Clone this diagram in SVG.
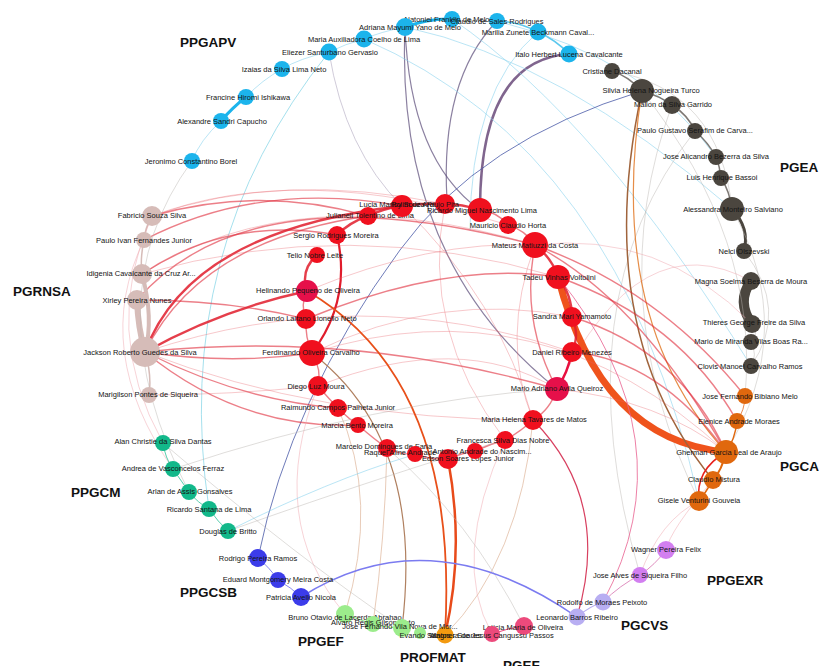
<svg xmlns="http://www.w3.org/2000/svg" width="819" height="666" viewBox="0 0 819 666">
<style>
.e{fill:none;stroke-linecap:round}
.rl{stroke:#e8606a;stroke-opacity:.35;stroke-width:1}
.rm{stroke:#e02a38;stroke-opacity:.6;stroke-width:1.4}
.rt{stroke:#e01c2c;stroke-opacity:.85;stroke-width:2.4}
.gl{stroke:#b8b4b0;stroke-opacity:.45;stroke-width:1}
.pl{stroke:#f0a8b0;stroke-opacity:.5;stroke-width:1}
.bl{stroke:#8cd4ee;stroke-opacity:.6;stroke-width:1}
.pu{stroke:#5a4a78;stroke-opacity:.7;stroke-width:1.2}
.nv{stroke:#4a5aa8;stroke-opacity:.8;stroke-width:1}
.tn{stroke:#d8a888;stroke-opacity:.6;stroke-width:1}
.gr{stroke:#5e5852;stroke-opacity:.8;stroke-width:1.5}
text{font-family:"Liberation Sans",Arial,sans-serif}
.n text{font-size:7.5px;fill:#141414;text-anchor:middle}
.grp{font-size:13.5px;font-weight:bold;fill:#111}
.apv{fill:#1cb4ec}.pgea{fill:#4b463f}.pgca{fill:#e0680e}.exr{fill:#d27ff0}.cvs{fill:#b8aef2}
.pgef{fill:#ec4a7c}.prof{fill:#f39a10}.ppgef{fill:#9cec8c}.csb{fill:#3c3cea}.cm{fill:#12b88a}
.rn{fill:#d6bcb8}.red{fill:#f0101e}.rp{fill:#e6104a}
</style>
<rect width="819" height="666" fill="#ffffff"/>
<g id="edges">
<path class="e" d="M452,19 Q430,18 405,27" stroke="#1cb4ec" stroke-width="3"/>
<path class="e bl" d="M405,27 Q380,32 364,39 M364,39 Q345,44 329,52 M329,52 Q300,58 282,69 M282,69 Q262,80 246,97 M221,121 Q200,140 192,161"/>
<path class="e" d="M246,97 Q232,108 221,121" stroke="#1cb4ec" stroke-width="3"/>
<path class="e" d="M497,21 Q520,22 538,32 M538,32 Q556,40 569,54" stroke="#5cc8ee" stroke-width="1.5"/>
<path class="e" d="M329,52 Q170,250 209,509" stroke="#8fd8e8" stroke-width="1" stroke-opacity=".8"/>
<path class="e" d="M329,52 Q345,150 402,206" stroke="#b0a8c0" stroke-width="1" stroke-opacity=".6"/>
<path class="e pu" d="M405,27 Q395,260 557,389"/>
<path class="e pu" d="M405,27 Q410,160 480,210"/>
<path class="e pu" d="M497,21 Q440,80 447,200"/>
<path class="e" d="M569,54 Q480,60 480,210" stroke="#6a4a7a" stroke-width="2.5" stroke-opacity=".85"/>
<path class="e bl" d="M538,32 Q470,90 470,230"/>
<path class="e bl" d="M405,27 Q560,60 732,209"/>
<path class="e bl" d="M364,39 Q620,150 699,501"/>
<path class="e bl" d="M452,19 Q600,120 751,366"/>
<path class="e bl" d="M497,21 Q650,60 716,157"/>
<path class="e nv" d="M642,91 Q480,140 400,250 Q290,400 258,558"/>
<path class="e gr" d="M612,71 Q628,76 642,91 Q660,96 672,105 Q688,115 695,131 Q708,142 716,157 Q720,167 721,178 Q730,192 732,209"/>
<path class="e gl" d="M612,71 Q720,90 732,209"/>
<path class="e" d="M732,209 Q750,228 744,251" stroke="#4b463f" stroke-width="3"/>
<path class="e" d="M751,281 Q736,302 752,324" stroke="#4b463f" stroke-width="10"/>
<path class="e gl" d="M752,324 Q760,334 751,342 M751,342 Q758,355 751,366"/>
<path class="e gl" d="M744,251 Q790,310 751,366"/>
<path class="e gl" d="M732,209 Q800,330 726,452"/>
<path class="e gl" d="M642,91 Q760,240 745,396"/>
<path class="e gl" d="M672,105 Q600,300 699,501"/>
<path class="e gl" d="M695,131 Q560,300 640,575"/>
<path class="e pl" d="M535,245 Q660,230 752,324"/>
<path class="e pl" d="M557,389 Q640,220 751,281"/>
<path class="e" d="M558,277 Q600,440 726,452" stroke="#ee4a10" stroke-width="7" stroke-opacity=".95"/>
<path class="e" d="M642,91 Q590,330 713,480" stroke="#a0643c" stroke-width="1.5"/>
<path class="e" d="M642,91 Q605,320 726,452" stroke="#e0701a" stroke-width="1.2" stroke-opacity=".8"/>
<path class="e rm" d="M535,245 Q640,300 726,452"/>
<path class="e rm" d="M535,245 Q660,290 745,396"/>
<path class="e rm" d="M558,277 Q680,320 737,421"/>
<path class="e rm" d="M572,352 Q660,360 726,452"/>
<path class="e rm" d="M572,317 Q680,350 726,452"/>
<path class="e rl" d="M557,389 Q660,400 726,452"/>
<path class="e rl" d="M312,353 Q540,280 726,452"/>
<path class="e" d="M745,396 Q745,410 737,421" stroke="#e88a50" stroke-width="1"/>
<path class="e" d="M737,421 Q735,440 726,452" stroke="#e0680e" stroke-width="1.5"/>
<path class="e" d="M726,452 Q722,470 713,480" stroke="#e0680e" stroke-width="2"/>
<path class="e" d="M713,480 Q706,492 699,501" stroke="#e0680e" stroke-width="1.5"/>
<path class="e" d="M726,452 Q695,470 699,501" stroke="#e8201c" stroke-width="1.5"/>
<path class="e pl" d="M699,501 Q660,520 640,575"/>
<path class="e pl" d="M713,480 Q670,530 666,550"/>
<path class="e rt" d="M535,245 Q552,258 558,277"/>
<path class="e rt" d="M558,277 Q572,295 572,317 M572,317 Q580,335 572,352"/>
<path class="e" d="M572,352 Q568,372 557,389" stroke="#e81040" stroke-width="2.5"/>
<path class="e rm" d="M557,389 Q550,410 533,420 M533,420 Q520,432 505,440"/>
<path class="e rm" d="M535,245 Q520,320 557,389"/>
<path class="e rl" d="M535,245 Q500,340 533,420"/>
<path class="e rm" d="M508,225 Q525,230 535,245 M480,210 Q498,212 508,225"/>
<path class="e rt" d="M445,204 Q462,204 480,210 M402,206 Q424,203 445,204 M368,216 Q385,208 402,206"/>
<path class="e rt" d="M368,216 Q350,222 337,235"/>
<path class="e" d="M337,235 Q352,300 312,353" stroke="#e01c2c" stroke-width="2.2"/>
<path class="e rt" d="M317,255 Q300,270 307,291"/>
<path class="e rm" d="M307,291 Q300,305 306,319 M306,319 Q305,338 312,353 M312,353 Q322,370 318,386 M318,386 Q330,400 338,408 M338,408 Q350,420 358,425"/>
<path class="e rm" d="M358,425 Q375,440 387,448 M387,448 Q400,455 415,454 M415,454 Q430,460 448,459 M448,459 Q462,453 475,451 M475,451 Q490,444 505,440"/>
<path class="e rt" d="M145,352 Q190,230 402,206"/>
<path class="e rm" d="M145,352 Q200,240 368,216"/>
<path class="e rm" d="M137,300 Q250,170 535,245"/>
<path class="e rl" d="M152,216 Q300,160 508,225"/>
<path class="e rl" d="M152,216 Q280,170 445,204"/>
<path class="e rm" d="M144,240 Q260,180 402,206"/>
<path class="e rl" d="M142,274 Q300,175 535,245"/>
<path class="e rm" d="M142,274 Q230,215 337,235"/>
<path class="e rl" d="M142,274 Q350,215 558,277"/>
<path class="e rm" d="M152,216 Q260,185 368,216"/>
<path class="e rt" d="M145,352 Q220,310 307,291"/>
<path class="e rm" d="M137,300 Q230,300 306,319"/>
<path class="e rm" d="M145,352 Q230,365 312,353"/>
<path class="e rm" d="M145,352 Q350,330 557,389"/>
<path class="e rl" d="M145,352 Q320,420 533,420"/>
<path class="e rm" d="M145,352 Q240,400 338,408"/>
<path class="e rm" d="M145,352 Q240,430 358,425"/>
<path class="e rl" d="M149,395 Q230,395 318,386"/>
<path class="e rl" d="M145,352 Q360,280 572,352"/>
<path class="e rl" d="M307,291 Q430,240 535,245"/>
<path class="e rm" d="M306,319 Q450,260 558,277"/>
<path class="e rl" d="M312,353 Q440,290 572,317"/>
<path class="e rl" d="M318,386 Q460,330 557,389"/>
<path class="e rl" d="M402,206 Q500,300 533,420"/>
<path class="e rl" d="M445,204 Q420,330 505,440"/>
<path class="e" d="M137,300 Q138,328 145,352" stroke="#d6bcb8" stroke-width="6"/>
<path class="e" d="M142,274 Q154,318 145,352" stroke="#d6bcb8" stroke-width="4"/>
<path class="e" d="M152,216 Q145,228 144,240 M144,240 Q140,258 142,274 M145,352 Q152,375 149,395" stroke="#d6bcb8" stroke-width="1.5"/>
<path class="e pl" d="M152,216 Q100,330 163,443"/>
<path class="e pl" d="M144,240 Q90,350 173,469"/>
<path class="e gl" d="M192,161 Q90,300 189,492"/>
<path class="e" d="M307,291 Q460,380 445,635" stroke="#e8501a" stroke-width="1.8"/>
<path class="e" d="M448,459 Q465,550 445,635" stroke="#e84a1a" stroke-width="2.5"/>
<path class="e" d="M312,353 Q425,440 402,628" stroke="#b08060" stroke-width="1.2"/>
<path class="e tn" d="M338,408 Q380,500 345,614"/>
<path class="e pl" d="M318,386 Q265,520 345,614"/>
<path class="e tn" d="M387,448 Q385,540 373,624"/>
<path class="e" d="M533,420 Q612,500 577,617" stroke="#d84060" stroke-width="1.2"/>
<path class="e" d="M603,602 Q690,440 558,277" stroke="#e86090" stroke-width="1" stroke-opacity=".8"/>
<path class="e tn" d="M533,420 Q520,560 445,635"/>
<path class="e gl" d="M387,448 Q470,520 524,626"/>
<path class="e pl" d="M505,440 Q450,560 492,634"/>
<path class="e" d="M301,597 Q430,515 577,617" stroke="#7b7bf0" stroke-width="1.5"/>
<path class="e gl" d="M173,469 Q380,400 557,389"/>
<path class="e gl" d="M228,531 Q400,470 505,440"/>
<path class="e bl" d="M228,531 Q330,480 410,456"/>
<path class="e gl" d="M163,443 Q300,560 402,628"/>
<path class="e" d="M163,443 Q165,458 173,469 M173,469 Q182,482 189,492 M189,492 Q198,503 209,509 M209,509 Q218,522 228,531" stroke="#12b88a" stroke-width="1" stroke-opacity=".7"/>
<path class="e" d="M258,558 Q270,568 278,580 M278,580 Q292,588 301,597" stroke="#3c3cea" stroke-width="1" stroke-opacity=".6"/>
<path class="e" d="M345,614 Q360,620 373,624 M373,624 Q388,628 402,628" stroke="#9cec8c" stroke-width="1.2"/>
<path class="e" d="M577,617 Q590,606 603,602" stroke="#b8aef2" stroke-width="1.2"/>
<path class="e" d="M603,602 Q620,585 640,575 M640,575 Q655,565 666,550" stroke="#e090c0" stroke-width="1"/>
<path class="e" d="M492,634 Q508,628 524,626" stroke="#ec4a7c" stroke-width="1"/>
</g>
<g id="nodes" class="n">
<g id="n-natoniel"><circle class="apv" cx="452" cy="19" r="8"/><text x="447" y="21.6">Natoniel Franklin de Melo</text></g>
<g id="n-claudio-sales"><circle class="apv" cx="497" cy="21" r="8"/><text x="497" y="23.6">Claudio de Sales Rodrigues</text></g>
<g id="n-adriana"><circle class="apv" cx="405" cy="27" r="9"/><text x="410" y="29.6">Adriana Mayumi Yano de Melo</text></g>
<g id="n-maria-aux"><circle class="apv" cx="364" cy="39" r="8.5"/><text x="364" y="41.6">Maria Auxiliadora Coelho de Lima</text></g>
<g id="n-eliezer"><circle class="apv" cx="329" cy="52" r="8.5"/><text x="330" y="54.6">Eliezer Santurbano Gervasio</text></g>
<g id="n-izaias"><circle class="apv" cx="282" cy="69" r="8"/><text x="284" y="71.6">Izaias da Silva Lima Neto</text></g>
<g id="n-francine"><circle class="apv" cx="246" cy="97" r="8"/><text x="248" y="99.6">Francine Hiromi Ishikawa</text></g>
<g id="n-alexandre"><circle class="apv" cx="221" cy="121" r="8"/><text x="222" y="123.6">Alexandre Sandri Capucho</text></g>
<g id="n-jeronimo"><circle class="apv" cx="192" cy="161" r="8"/><text x="191" y="163.6">Jeronimo Constantino Borel</text></g>
<g id="n-marilia"><circle class="apv" cx="538" cy="32" r="8.5"/><text x="538" y="34.6">Marilia Zunete Beckmann Caval...</text></g>
<g id="n-italo"><circle class="apv" cx="569" cy="54" r="8.5"/><text x="569" y="56.6">Italo Herbert Lucena Cavalcante</text></g>
<g id="n-cristiane"><circle class="pgea" cx="612" cy="71" r="8"/><text x="612" y="73.6">Cristiane Dacanal</text></g>
<g id="n-silvia"><circle class="pgea" cx="642" cy="91" r="12"/><text x="651" y="92.6">Silvia Helena Nogueira Turco</text></g>
<g id="n-mallon"><circle class="pgea" cx="672" cy="105" r="9"/><text x="673" y="106.6">Mallon da Silva Garrido</text></g>
<g id="n-paulo-g"><circle class="pgea" cx="695" cy="131" r="8"/><text x="695" y="132.6">Paulo Gustavo Serafim de Carva...</text></g>
<g id="n-jose-a"><circle class="pgea" cx="716" cy="157" r="8"/><text x="716" y="158.6">Jose Alicandro Bezerra da Silva</text></g>
<g id="n-luis"><circle class="pgea" cx="721" cy="178" r="8"/><text x="722" y="179.6">Luis Henrique Bassoi</text></g>
<g id="n-alessandra"><circle class="pgea" cx="732" cy="209" r="12"/><text x="733" y="211.6">Alessandra Monteiro Salviano</text></g>
<g id="n-nelci"><circle class="pgea" cx="744" cy="251" r="8"/><text x="744" y="253.6">Nelci Olszevski</text></g>
<g id="n-magna"><circle class="pgea" cx="751" cy="281" r="9"/><text x="751" y="283.6">Magna Soelma Beserra de Moura</text></g>
<g id="n-thieres"><circle class="pgea" cx="752" cy="324" r="9"/><text x="754" y="324.6">Thieres George Freire da Silva</text></g>
<g id="n-mario-m"><circle class="pgea" cx="751" cy="342" r="8"/><text x="751" y="343.6">Mario de Miranda Vilas Boas Ra...</text></g>
<g id="n-clovis"><circle class="pgea" cx="751" cy="366" r="8"/><text x="750" y="368.6">Clovis Manoel Carvalho Ramos</text></g>
<g id="n-jose-f"><circle class="pgca" cx="745" cy="396" r="8"/><text x="750" y="398.6">Jose Fernando Bibiano Melo</text></g>
<g id="n-elenice"><circle class="pgca" cx="737" cy="421" r="8"/><text x="739" y="423.6">Elenice Andrade Moraes</text></g>
<g id="n-gherman"><circle class="pgca" cx="726" cy="452" r="12"/><text x="729" y="454.6">Gherman Garcia Leal de Araujo</text></g>
<g id="n-claudio-m"><circle class="pgca" cx="713" cy="480" r="9"/><text x="714" y="481.6">Claudio Mistura</text></g>
<g id="n-gisele"><circle class="pgca" cx="699" cy="501" r="10"/><text x="699" y="502.6">Gisele Venturini Gouveia</text></g>
<g id="n-wagner-f"><circle class="exr" cx="666" cy="550" r="9"/><text x="666" y="551.6">Wagner Pereira Felix</text></g>
<g id="n-jose-alves"><circle class="exr" cx="640" cy="575" r="8"/><text x="640" y="577.6">Jose Alves de Siqueira Filho</text></g>
<g id="n-rodolfo"><circle class="cvs" cx="603" cy="602" r="8.5"/><text x="602" y="604.6">Rodolfo de Moraes Peixoto</text></g>
<g id="n-leonardo"><circle class="cvs" cx="577" cy="617" r="8.5"/><text x="577" y="619.6">Leonardo Barros Ribeiro</text></g>
<g id="n-leticia"><circle class="pgef" cx="524" cy="626" r="9"/><text x="523" y="629.6">Leticia Maria de Oliveira</text></g>
<g id="n-cangussu"><circle class="pgef" cx="492" cy="634" r="8"/><text x="492" y="637.6">Vanessa de Jesus Cangussu Passos</text></g>
<g id="n-wagner-p"><circle class="prof" cx="445" cy="635" r="8.5"/><text x="455" y="637.6">Wagner Soares</text></g>
<g id="n-bruno"><circle class="ppgef" cx="345" cy="614" r="9"/><text x="345" y="619.6">Bruno Otavio de Lacerda Abrahao</text></g>
<g id="n-alvaro"><circle class="ppgef" cx="373" cy="624" r="8"/><text x="373" y="624.6">Alvaro Regis Gilson Neto</text></g>
<g id="n-jose-vila"><circle class="ppgef" cx="402" cy="628" r="9"/><text x="400" y="628.6">Jose Fernando Vila Nova de Mor...</text></g>
<g id="n-evando"><circle class="ppgef" cx="420" cy="633" r="6"/><text x="425" y="637.6">Evando Santos</text></g>
<g id="n-rodrigo"><circle class="csb" cx="258" cy="558" r="9"/><text x="258" y="560.6">Rodrigo Pereira Ramos</text></g>
<g id="n-eduard"><circle class="csb" cx="278" cy="580" r="8"/><text x="278" y="581.6">Eduard Montgomery Meira Costa</text></g>
<g id="n-patricia"><circle class="csb" cx="301" cy="597" r="9"/><text x="301" y="599.6">Patricia Avello Nicola</text></g>
<g id="n-alan"><circle class="cm" cx="163" cy="443" r="8"/><text x="163" y="443.6">Alan Christie da Silva Dantas</text></g>
<g id="n-andrea"><circle class="cm" cx="173" cy="469" r="8"/><text x="173" y="470.6">Andrea de Vasconcelos Ferraz</text></g>
<g id="n-arlan"><circle class="cm" cx="189" cy="492" r="8"/><text x="190" y="493.6">Arlan de Assis Gonsalves</text></g>
<g id="n-ricardo"><circle class="cm" cx="209" cy="509" r="8"/><text x="209" y="511.6">Ricardo Santana de Lima</text></g>
<g id="n-douglas"><circle class="cm" cx="228" cy="531" r="8"/><text x="228" y="533.6">Douglas de Britto</text></g>
<g id="n-fabricio"><circle class="rn" cx="152" cy="216" r="10"/><text x="152" y="217.6">Fabricio Souza Silva</text></g>
<g id="n-paulo-i"><circle class="rn" cx="144" cy="240" r="8"/><text x="144" y="242.6">Paulo Ivan Fernandes Junior</text></g>
<g id="n-idigenia"><circle class="rn" cx="142" cy="274" r="10"/><text x="141" y="275.6">Idigenia Cavalcante da Cruz Ar...</text></g>
<g id="n-xirley"><circle class="rn" cx="137" cy="300" r="10"/><text x="137" y="302.6">Xirley Pereira Nunes</text></g>
<g id="n-jackson"><circle class="rn" cx="145" cy="352" r="15"/><text x="140" y="354.6">Jackson Roberto Guedes da Silva</text></g>
<g id="n-marigilson"><circle class="rn" cx="149" cy="395" r="8"/><text x="148" y="396.6">Marigilson Pontes de Siqueira</text></g>
<g id="n-julianeli"><circle class="red" cx="368" cy="216" r="9"/><text x="370" y="217.6">Julianeli Tolentino de Lima</text></g>
<g id="n-lucia"><circle class="red" cx="402" cy="206" r="11"/><text x="405" y="206.6">Lucia Marisy Souza Ribeiro</text></g>
<g id="n-pita"><circle class="red" cx="445" cy="204" r="10"/><text x="425" y="207">Rolim de Araujo Pita</text></g>
<g id="n-nasc"><circle class="red" cx="480" cy="210" r="12"/><text x="482" y="212.6">Ricardo Miguel Nascimento Lima</text></g>
<g id="n-mauricio"><circle class="red" cx="508" cy="225" r="9"/><text x="508" y="227.6">Mauricio Claudio Horta</text></g>
<g id="n-mateus"><circle class="red" cx="535" cy="245" r="13"/><text x="535" y="247.6">Mateus Matiuzzi da Costa</text></g>
<g id="n-tadeu"><circle class="red" cx="558" cy="277" r="12"/><text x="559" y="279.6">Tadeu Vinhas Voltolini</text></g>
<g id="n-sandra"><circle class="red" cx="572" cy="317" r="10"/><text x="572" y="318.6">Sandra Mari Yamamoto</text></g>
<g id="n-daniel"><circle class="red" cx="572" cy="352" r="10"/><text x="572" y="354.6">Daniel Ribeiro Menezes</text></g>
<g id="n-mario-a"><circle class="rp" cx="557" cy="389" r="12"/><text x="557" y="390.6">Mario Adriano Avila Queiroz</text></g>
<g id="n-maria-h"><circle class="red" cx="533" cy="420" r="10"/><text x="534" y="421.6">Maria Helena Tavares de Matos</text></g>
<g id="n-francesca"><circle class="red" cx="505" cy="440" r="9"/><text x="503" y="442.6">Francesca Silva Dias Nobre</text></g>
<g id="n-sergio"><circle class="red" cx="337" cy="235" r="9"/><text x="336" y="237.6">Sergio Rodrigues Moreira</text></g>
<g id="n-telio"><circle class="red" cx="317" cy="255" r="8"/><text x="315" y="257.6">Telio Nobre Leite</text></g>
<g id="n-helinando"><circle class="rp" cx="307" cy="291" r="11"/><text x="308" y="292.6">Helinando Pequeno de Oliveira</text></g>
<g id="n-orlando"><circle class="red" cx="306" cy="319" r="10"/><text x="307" y="320.6">Orlando Laitano Lionello Neto</text></g>
<g id="n-ferdinando"><circle class="red" cx="312" cy="353" r="13"/><text x="311" y="354.6">Ferdinando Oliveira Carvalho</text></g>
<g id="n-diego"><circle class="red" cx="318" cy="386" r="10"/><text x="316" y="388.6">Diego Luz Moura</text></g>
<g id="n-raimundo"><circle class="red" cx="338" cy="408" r="9"/><text x="338" y="409.6">Raimundo Campos Palheta Junior</text></g>
<g id="n-marcia"><circle class="red" cx="358" cy="425" r="8"/><text x="357" y="427.6">Marcia Bento Moreira</text></g>
<g id="n-marcelo"><circle class="red" cx="387" cy="448" r="9"/><text x="384" y="448.6">Marcelo Domingues de Faria</text></g>
<g id="n-raquel"><circle class="red" cx="415" cy="454" r="8"/><text x="400" y="454.6">Raquel Aline Andrade</text></g>
<g id="n-lopes"><circle class="red" cx="448" cy="459" r="10"/><text x="468" y="460.6">Edson Soares Lopes Junior</text></g>
<g id="n-nascim"><circle class="red" cx="475" cy="451" r="8"/><text x="482" y="453.6">Antonio Andrade do Nascim...</text></g>
</g>
<g id="groups">
<text class="grp" x="180" y="47">PPGAPV</text>
<text class="grp" x="780" y="172">PGEA</text>
<text class="grp" x="13" y="296">PGRNSA</text>
<text class="grp" x="71" y="497">PPGCM</text>
<text class="grp" x="780" y="471">PGCA</text>
<text class="grp" x="707" y="585">PPGEXR</text>
<text class="grp" x="621" y="630">PGCVS</text>
<text class="grp" x="180" y="597">PPGCSB</text>
<text class="grp" x="298" y="646">PPGEF</text>
<text class="grp" x="400" y="662">PROFMAT</text>
<text class="grp" x="503" y="670">PGEF</text>
</g>
</svg>
